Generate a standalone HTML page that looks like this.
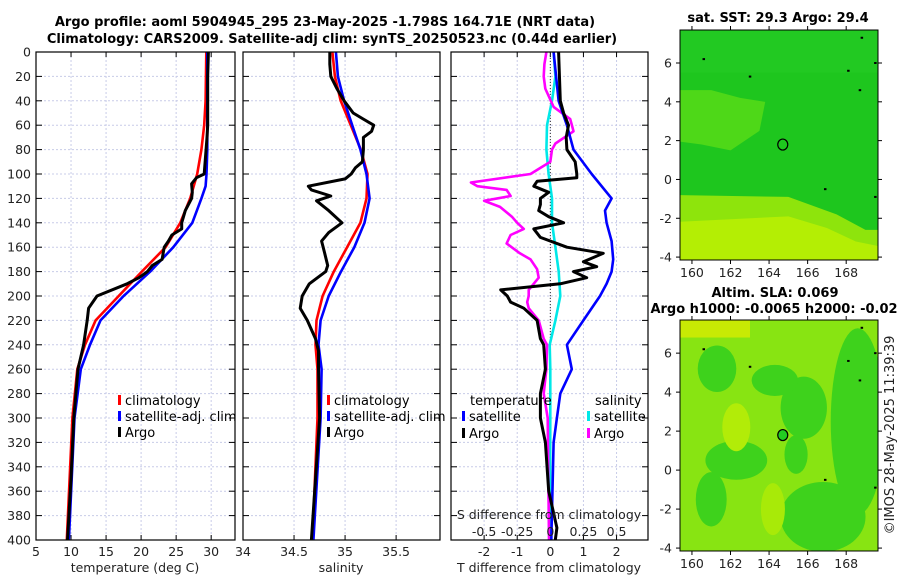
<!DOCTYPE html>
<html><head><meta charset="utf-8"><style>
body{margin:0;background:#fff;}
svg{display:block;font-family:"DejaVu Sans","Liberation Sans",sans-serif;}
.t{font-size:13px;font-weight:bold;fill:#000;}
.tk{font-size:12.5px;fill:#222;}
.lg{font-size:13px;fill:#000;}
</style></head><body>
<svg id="fig" width="900" height="580" viewBox="0 0 900 580" xmlns="http://www.w3.org/2000/svg">
<text class="t" x="325" y="26" text-anchor="middle">Argo profile: aoml 5904945_295 23-May-2025 -1.798S 164.71E (NRT data)</text>
<text class="t" x="332" y="43" text-anchor="middle">Climatology: CARS2009. Satellite-adj clim: synTS_20250523.nc (0.44d earlier)</text>
<g id="panels"></g>
<g id="maps"></g>
<text class="tk" transform="translate(894,435) rotate(-90)" text-anchor="middle" style="font-size:13px">©IMOS 28-May-2025 11:39:39</text>
</svg>
<script>
// ---- data ----
const tempDepthClim = [0,40,60,80,100,120,140,160,180,200,220,240,260,300,400];
const tempClim = [29.3,29.2,29.0,28.6,28.0,27.0,25.6,23.5,20.1,16.8,13.5,12.0,10.9,10.2,9.4];
const tempDepthSat = [0,80,100,110,120,140,160,180,200,220,240,260,300,400];
const tempSat = [29.45,29.45,29.33,29.2,28.6,27.3,24.6,21.3,17.5,14.2,12.7,11.4,10.5,9.7];
const tempDepthArgo = [0,20,60,70,100,103,108,115,120,130,140,145,150,155,160,170,175,180,185,190,200,210,220,240,260,300,350,400];
const tempArgo = [29.6,29.5,29.5,29.4,29.0,27.9,27.2,27.3,27.2,26.3,25.8,25.8,24.4,23.9,23.3,23.0,21.6,20.9,19.7,18.0,13.7,12.5,12.3,11.8,11.0,10.4,10.0,9.5];

const salDepthClim = [0,20,40,60,80,100,120,140,160,180,200,220,240,260,300,400];
const salClim = [34.876,34.90,34.957,35.056,35.154,35.22,35.21,35.15,35.02,34.89,34.78,34.72,34.71,34.73,34.73,34.68];
const salDepthSat = [0,20,40,60,80,100,120,140,160,180,200,220,240,260,300,400];
const salSat = [34.91,34.93,34.99,35.07,35.15,35.21,35.24,35.19,35.09,34.96,34.84,34.76,34.74,34.77,34.76,34.69];
const salDepthArgo = [0,10,20,30,40,50,55,60,65,70,80,90,95,100,104,110,113,118,122,130,140,148,155,165,175,180,190,200,210,220,235,245,260,300,400];
const salArgo = [34.85,34.85,34.86,34.92,34.99,35.08,35.18,35.28,35.26,35.18,35.18,35.17,35.10,35.06,35.0,34.64,34.67,34.86,34.72,34.84,34.97,34.84,34.77,34.80,34.83,34.81,34.65,34.58,34.56,34.63,34.71,34.74,34.74,34.75,34.67];

const dDepthArgoT = [0,40,50,60,70,80,90,100,103,106,110,115,120,125,130,135,140,145,152,160,165,172,176,180,185,190,195,200,205,210,220,235,240,260,280,300,320,360,390,400];
const dArgoT = [0.25,0.3,0.4,0.55,0.48,0.5,0.75,0.8,0.8,-0.4,-0.5,-0.05,-0.3,-0.3,-0.35,-0.05,0.4,-0.5,-0.3,0.5,1.6,1.0,1.4,0.7,1.1,0.3,-1.5,-1.3,-1.2,-0.8,-0.4,-0.3,-0.2,-0.15,-0.3,-0.3,-0.15,-0.05,0.2,0.15];
const dDepthSatT = [0,40,60,80,100,120,130,140,155,170,180,190,200,220,240,260,280,300,320,400];
const dSatT = [0.1,0.25,0.5,0.7,1.25,1.85,1.65,1.7,1.85,1.9,1.85,1.7,1.5,1.0,0.5,0.65,0.3,0.2,0.1,0.03];
const dDepthSatS = [0,20,40,60,80,100,120,140,160,180,200,220,240,260,300,400];
const dSatS = [0.025,0.038,0.013,-0.025,-0.03,-0.013,0.013,0.013,0.038,0.063,0.075,0.038,-0.005,0,0,-0.003];
const dDepthArgoS = [0,10,20,30,45,55,60,65,75,80,90,95,100,107,110,113,118,122,127,135,140,145,150,157,165,170,178,185,195,200,205,210,220,235,240,260,280,300,400];
const dArgoS = [-0.03,-0.045,-0.05,-0.038,0.025,0.15,0.163,0.175,0.038,0.013,0,-0.075,-0.15,-0.6,-0.55,-0.33,-0.3,-0.5,-0.38,-0.29,-0.25,-0.2,-0.3,-0.33,-0.23,-0.15,-0.1,-0.088,-0.163,-0.163,-0.175,-0.163,-0.088,-0.05,-0.025,-0.03,-0.05,-0.02,-0.01];

const depthTicks = [0,20,40,60,80,100,120,140,160,180,200,220,240,260,280,300,320,340,360,380,400];
const tempTicks = [5,10,15,20,25,30];
const salTicks = [34,34.5,35,35.5];
const salTickLabels = ["34","34.5","35","35.5"];
const dTTicks = [-2,-1,0,1,2];
const dSTicks = [-0.5,-0.25,0,0.25,0.5];
const dSTickLabels = ["-0.5","-0.25","0","0.25","0.5"];
const mapLonTicks = [160,162,164,166,168];
const mapLatTicks = [6,4,2,0,-2,-4];
const argoLon = 164.71, argoLat = 1.798;

// ---- helpers ----
const NS="http://www.w3.org/2000/svg";
function mk(tag,attrs,parent){const e=document.createElementNS(NS,tag);for(const k in attrs)e.setAttribute(k,attrs[k]);parent.appendChild(e);return e;}
const Y0=52, Y1=540;
const yD = d => Y0 + d*(Y1-Y0)/400;
const panelsG=document.getElementById('panels');
const mapsG=document.getElementById('maps');

function panel(name,x0,x1,xmin,xmax){
  const g=mk('g',{},panelsG);
  
  
  const sx=v=>x0+(v-xmin)*(x1-x0)/(xmax-xmin);
  return {g,sx,x0,x1};
}
function grid(p,xt){
  depthTicks.forEach(d=>{ if(d>0&&d<400){const l=mk('line',{x1:p.x0,x2:p.x1,y1:yD(d),y2:yD(d),stroke:'#c8cce8','stroke-width':1,'stroke-dasharray':'2,2'},p.g);
    
    }
    [p.x0,p.x1-6].forEach(xx=>{mk('line',{x1:xx,x2:xx+6,y1:yD(d),y2:yD(d),stroke:'#000'},p.g);});
  });
  xt.forEach(v=>{const x=p.sx(v); if(x>p.x0+1&&x<p.x1-1){const l=mk('line',{x1:x,x2:x,y1:Y0,y2:Y1,stroke:'#c8cce8','stroke-width':1,'stroke-dasharray':'2,2'},p.g);
    
    }
    mk('line',{x1:x,x2:x,y1:Y1,y2:Y1-5,stroke:'#000'},p.g);mk('line',{x1:x,x2:x,y1:Y0,y2:Y0+5,stroke:'#000'},p.g);});
}
function frame(p){const r=mk('rect',{x:p.x0,y:Y0,width:p.x1-p.x0,height:Y1-Y0,fill:'none',stroke:'#000','stroke-width':1.2},p.g);
  
  }
function line(p,xs,ds,color,name,w){
  const pts=xs.map((v,i)=>p.sx(v).toFixed(1)+','+yD(ds[i]).toFixed(1)).join(' ');
  const l=mk('polyline',{points:pts,fill:'none',stroke:color,'stroke-width':w||2.6,'stroke-linejoin':'round'},p.g);
  
  
}
function txt(parent,x,y,s,cls,anchor,name){const t=mk('text',{x,y,class:cls,'text-anchor':anchor||'middle'},parent);t.textContent=s;
  
  return t;}
function legend(parent,x,y,color,label){
  mk('rect',{x:x,y:y-10,width:3,height:10,fill:color},parent);
  txt(parent,x+7,y,label,'lg','start','legend-entry');
}

// ---- panel 1: temperature ----
const p1=panel('temperature-panel',36,235,5,33.4);
grid(p1,tempTicks);
line(p1,tempClim,tempDepthClim,'#ff0000','temp-climatology-line');
line(p1,tempSat,tempDepthSat,'#0000ff','temp-satellite-line');
line(p1,tempArgo,tempDepthArgo,'#000','temp-argo-line',3);
frame(p1);
depthTicks.forEach(d=>txt(panelsG,31,yD(d)+4.5,String(d),'tk','end','depth-tick-label'));
tempTicks.forEach(v=>txt(p1.g,p1.sx(v),556,String(v),'tk','middle','temp-tick-label'));
txt(p1.g,135,572,'temperature (deg C)','tk','middle','x-axis-title-temperature');
legend(p1.g,118,405,'#ff0000','climatology');
legend(p1.g,118,421,'#0000ff','satellite-adj. clim');
legend(p1.g,118,437,'#000','Argo');

// ---- panel 2: salinity ----
const p2=panel('salinity-panel',243,440,34,35.93);
grid(p2,salTicks);
line(p2,salClim,salDepthClim,'#ff0000','sal-climatology-line');
line(p2,salSat,salDepthSat,'#0000ff','sal-satellite-line');
line(p2,salArgo,salDepthArgo,'#000','sal-argo-line',3);
frame(p2);
salTicks.forEach((v,i)=>txt(p2.g,p2.sx(v),556,salTickLabels[i],'tk','middle','sal-tick-label'));
txt(p2.g,341,572,'salinity','tk','middle','x-axis-title-salinity');
legend(p2.g,327,405,'#ff0000','climatology');
legend(p2.g,327,421,'#0000ff','satellite-adj. clim');
legend(p2.g,327,437,'#000','Argo');

// ---- panel 3: differences ----
const p3=panel('difference-panel',451,648,-3,2.95);
const sxS=v=>p3.sx(v*4);
grid(p3,dTTicks);
const z=mk('line',{x1:p3.sx(0),x2:p3.sx(0),y1:Y0,y2:Y1,stroke:'#333','stroke-dasharray':'1,2'},p3.g);


line(p3,dSatS.map(v=>v*4),dDepthSatS,'#00e8e8','sdiff-satellite-line');
line(p3,dArgoS.map(v=>v*4),dDepthArgoS,'#ff00ff','sdiff-argo-line');
line(p3,dSatT,dDepthSatT,'#0000ff','tdiff-satellite-line');
line(p3,dArgoT,dDepthArgoT,'#000','tdiff-argo-line',3);
frame(p3);
dTTicks.forEach(v=>txt(p3.g,p3.sx(v),556,String(v),'tk','middle','tdiff-tick-label'));
txt(p3.g,549,572,'T difference from climatology','tk','middle','x-axis-title-tdiff');
txt(p3.g,549,519,'S difference from climatology','tk','middle','s-diff-axis-title');
dSTicks.forEach((v,i)=>txt(p3.g,sxS(v),536,dSTickLabels[i],'tk','middle','sdiff-tick-label'));
txt(p3.g,470,405,'temperature','lg','start','legend-title-temperature');
txt(p3.g,595,405,'salinity','lg','start','legend-title-salinity');
legend(p3.g,462,421,'#0000ff','satellite');
legend(p3.g,462,438,'#000','Argo');
legend(p3.g,587,421,'#00e8e8','satellite');
legend(p3.g,587,438,'#ff00ff','Argo');

// ---- maps ----
function map(name,y0,y1,draw){
  const g=mk('g',{},mapsG);
  
  
  const x0=680,x1=878, lon0=159.38,lon1=169.65, lat1=7.7,lat0=-4.15;
  const sx=v=>x0+(v-lon0)*(x1-x0)/(lon1-lon0);
  const sy=v=>y0+(lat1-v)*(y1-y0)/(lat1-lat0);
  const cp='clip'+name; const c=mk('clipPath',{id:cp},g); mk('rect',{x:x0,y:y0,width:x1-x0,height:y1-y0},c);
  const inner=mk('g',{'clip-path':'url(#'+cp+')'},g);
  draw(inner,sx,sy);
  mk('ellipse',{cx:sx(argoLon),cy:sy(argoLat),rx:5,ry:5.5,fill:name==='sla-map'?'#22cc22':'none',stroke:'#000','stroke-width':1.2},g);
  const fr=mk('rect',{x:x0,y:y0,width:x1-x0,height:y1-y0,fill:'none',stroke:'#000','stroke-width':1},g);
  
  
  mapLonTicks.forEach(v=>{mk('line',{x1:sx(v),x2:sx(v),y1:y1,y2:y1+4,stroke:'#000'},g);mk('line',{x1:sx(v),x2:sx(v),y1:y0,y2:y0-4,stroke:'#000'},g);
    txt(g,sx(v),y1+17,String(v),'tk','middle','map-lon-tick');});
  mapLatTicks.forEach(v=>{mk('line',{x1:x0,x2:x0-4,y1:sy(v),y2:sy(v),stroke:'#000'},g);mk('line',{x1:x1,x2:x1+4,y1:sy(v),y2:sy(v),stroke:'#000'},g);
    txt(g,x0-8,sy(v)+4.5,String(v),'tk','end','map-lat-tick');});
  // small island dots
  [[160.6,6.2],[163,5.3],[168.1,5.6],[168.7,4.6],[166.9,-0.5],[169.5,-0.9],[169.5,6],[168.8,7.3]].forEach(p=>mk('rect',{x:sx(p[0])-1,y:sy(p[1])-1,width:2.5,height:2,fill:'#000'},g));
}
map('sst-map',30,260,(g,sx,sy)=>{
  mk('rect',{x:670,y:20,width:220,height:250,fill:'#1ec61e'},g);
  mk('rect',{x:670,y:20,width:220,height:sy(5.5)-20,fill:'#22c922'},g);
  mk('polygon',{points:`${sx(159)},${sy(4.6)} ${sx(161)},${sy(4.6)} ${sx(162.5)},${sy(4.2)} ${sx(163.8)},${sy(4)} ${sx(163.5)},${sy(2.5)} ${sx(162)},${sy(1.5)} ${sx(160.5)},${sy(1.8)} ${sx(159)},${sy(2)}`,fill:'#4ed818'},g);
  mk('polygon',{points:`${sx(159)},${sy(-0.8)} ${sx(165)},${sy(-0.9)} ${sx(167.5)},${sy(-1.8)} ${sx(169)},${sy(-2.6)} ${sx(170)},${sy(-2.6)} ${sx(170)},${sy(-5)} ${sx(159)},${sy(-5)}`,fill:'#8ee40c'},g);
  mk('polygon',{points:`${sx(159)},${sy(-2.2)} ${sx(165)},${sy(-1.9)} ${sx(167)},${sy(-2.5)} ${sx(168.5)},${sy(-3.2)} ${sx(170)},${sy(-3.5)} ${sx(170)},${sy(-5)} ${sx(159)},${sy(-5)}`,fill:'#b4ee04'},g);
});
txt(mapsG,778,22,'sat. SST: 29.3 Argo: 29.4','t','middle','sst-map-title');
map('sla-map',320,551,(g,sx,sy)=>{
  mk('rect',{x:670,y:310,width:220,height:250,fill:'#88e412'},g);
  mk('rect',{x:670,y:310,width:80,height:sy(6.8)-310,fill:'#c8ea04'},g);
  const blobs=[[161.3,5.2,1,1.2],[162.3,0.5,1.6,1],[165.8,3.2,1.2,1.6],[168.6,2.5,1.4,4.8],[166.8,-2.4,2.2,1.8],[161,-1.5,0.8,1.4],[164.3,4.6,1.2,0.8],[165.4,0.8,0.6,1]];
  blobs.forEach(b=>mk('ellipse',{cx:sx(b[0]),cy:sy(b[1]),rx:b[2]*19.3,ry:b[3]*19.4,fill:'#3ed21c'},g));
  mk('ellipse',{cx:sx(162.3),cy:sy(2.2),rx:14,ry:24,fill:'#b2ec08'},g);
  mk('ellipse',{cx:sx(164.2),cy:sy(-2),rx:12,ry:26,fill:'#a8ea08'},g);
});
txt(mapsG,775,297,'Altim. SLA: 0.069','t','middle','sla-map-title-1');
txt(mapsG,774,313,'Argo h1000: -0.0065 h2000: -0.02','t','middle','sla-map-title-2');
</script>
</body></html>
